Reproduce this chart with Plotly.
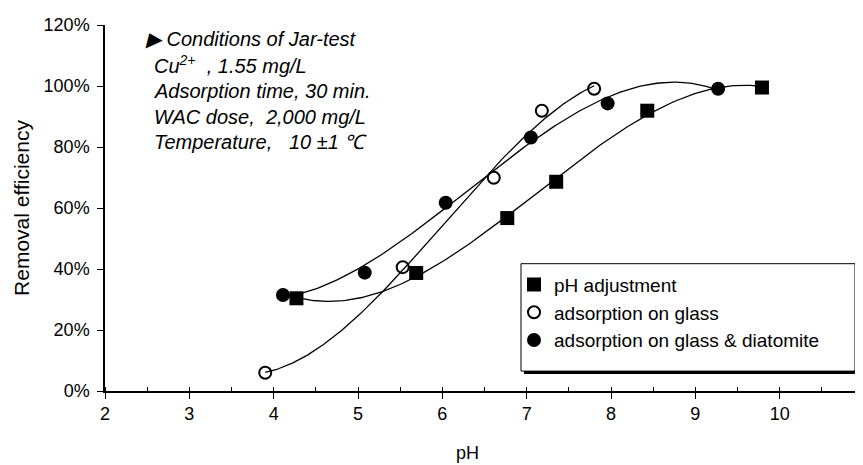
import numpy as np
import plotly.graph_objects as go

# ---- data ----
ph_adj_x = [4.27, 5.69, 6.77, 7.35, 8.43, 9.79]
ph_adj_y = [30.4, 38.7, 56.7, 68.6, 91.9, 99.5]

glass_x = [3.90, 5.53, 6.61, 7.18, 7.80]
glass_y = [6.0, 40.6, 69.9, 91.9, 99.1]

diat_x = [4.11, 5.08, 6.04, 7.05, 7.96, 9.27]
diat_y = [31.5, 38.8, 61.7, 83.1, 94.3, 99.1]

series_names = ["pH adjustment", "adsorption on glass", "adsorption on glass & diatomite"]
x_ticks = [2, 3, 4, 5, 6, 7, 8, 9, 10, 11]
y_ticks = [0, 20, 40, 60, 80, 100, 120]
y_tick_text = ["0%", "20%", "40%", "60%", "80%", "100%", "120%"]

conditions = [
    "\u25B6 Conditions of Jar-test",
    "Cu<sup>2+</sup>\u00a0 , 1.55 mg/L",
    "Adsorption time, 30 min.",
    "WAC dose,\u00a0 2,000 mg/L",
    "Temperature,\u00a0\u00a0 10 \u00b11 \u2103",
]

FONT = "Liberation Sans, Arial, sans-serif"

def trend(xs, ys, order=3):
    c = np.polyfit(xs, ys, order)
    xx = np.linspace(min(xs), max(xs), 200)
    return xx, np.polyval(c, xx)

fig = go.Figure()

# trendlines
for xs, ys in [(ph_adj_x, ph_adj_y), (glass_x, glass_y), (diat_x, diat_y)]:
    tx, ty = trend(xs, ys)
    fig.add_trace(go.Scatter(x=tx, y=ty, mode="lines", showlegend=False,
                             line=dict(color="black", width=1.3), hoverinfo="skip"))

# markers
fig.add_trace(go.Scatter(x=ph_adj_x, y=ph_adj_y, mode="markers", name=series_names[0],
                         legendgroup="a",
                         marker=dict(symbol="square", size=14, color="black")))
fig.add_trace(go.Scatter(x=glass_x, y=glass_y, mode="markers", name=series_names[1],
                         legendgroup="b",
                         marker=dict(symbol="circle-open", size=12, color="black",
                                     line=dict(width=2, color="black"))))
fig.add_trace(go.Scatter(x=diat_x, y=diat_y, mode="markers", name=series_names[2],
                         legendgroup="c",
                         marker=dict(symbol="circle", size=14, color="black")))

L, R, T, B = 97, 7, 15, 82
W, H = 863, 465
pw, ph = W - L - R, H - T - B

def px2paper(px, py):
    return (px - L) / pw, (H - B - py) / ph

# legend box with shadow
x0, y0 = px2paper(516, 366)
x1, y1 = px2paper(850, 258)
fig.add_shape(type="rect", xref="paper", yref="paper", x0=x0, y0=y0, x1=x1, y1=y1,
              fillcolor="black", line=dict(width=0), layer="above")
x0, y0 = px2paper(513, 363)
x1, y1 = px2paper(847, 255)
fig.add_shape(type="rect", xref="paper", yref="paper", x0=x0, y0=y0, x1=x1, y1=y1,
              fillcolor="white", line=dict(width=1, color="black"), layer="above")

# conditions text
ys_px = [29, 55, 81, 107, 133]
for i, (txt, ypx) in enumerate(zip(conditions, ys_px)):
    xp, yp = px2paper(135 if i == 0 else 144, ypx)
    fig.add_annotation(x=xp, y=yp, xref="paper", yref="paper", text=txt,
                       showarrow=False, xanchor="left", yanchor="middle",
                       font=dict(family=FONT, size=20, color="black", style="italic"))

# x-axis title placed like the reference (slightly left of centre)
xp, yp = px2paper(459, 445)
fig.add_annotation(x=xp, y=yp, xref="paper", yref="paper", text="pH", showarrow=False,
                   xanchor="center", yanchor="middle",
                   font=dict(family=FONT, size=18, color="black"))

lx, ly = px2paper(506, 257)
fig.update_layout(
    width=W, height=H,
    margin=dict(l=L, r=R, t=T, b=B),
    paper_bgcolor="white", plot_bgcolor="white",
    font=dict(family=FONT, size=18, color="black"),
    showlegend=True,
    legend=dict(x=lx, y=ly, xanchor="left", yanchor="top", bgcolor="rgba(0,0,0,0)",
                borderwidth=0, font=dict(family=FONT, size=19, color="black"),
                tracegroupgap=0, itemwidth=30),
    xaxis=dict(range=[2, 11], tickvals=x_ticks, ticks="outside", ticklen=6, tickwidth=1,
               tickcolor="black", showline=True, linecolor="black", linewidth=1.5,
               showgrid=False, zeroline=False, tickfont=dict(size=18),
               minor=dict(dtick=0.5, ticks="inside", ticklen=4, tickcolor="black", showgrid=False)),
    yaxis=dict(range=[0, 120], tickvals=y_ticks, ticktext=y_tick_text, ticks="outside", ticklen=6,
               tickwidth=1, tickcolor="black", showline=True, linecolor="black", linewidth=1.5,
               showgrid=False, zeroline=False, tickfont=dict(size=18), ticklabelstandoff=4,
               title=dict(text="Removal efficiency", font=dict(size=21), standoff=8)),
)

fig.write_html("out.html")
